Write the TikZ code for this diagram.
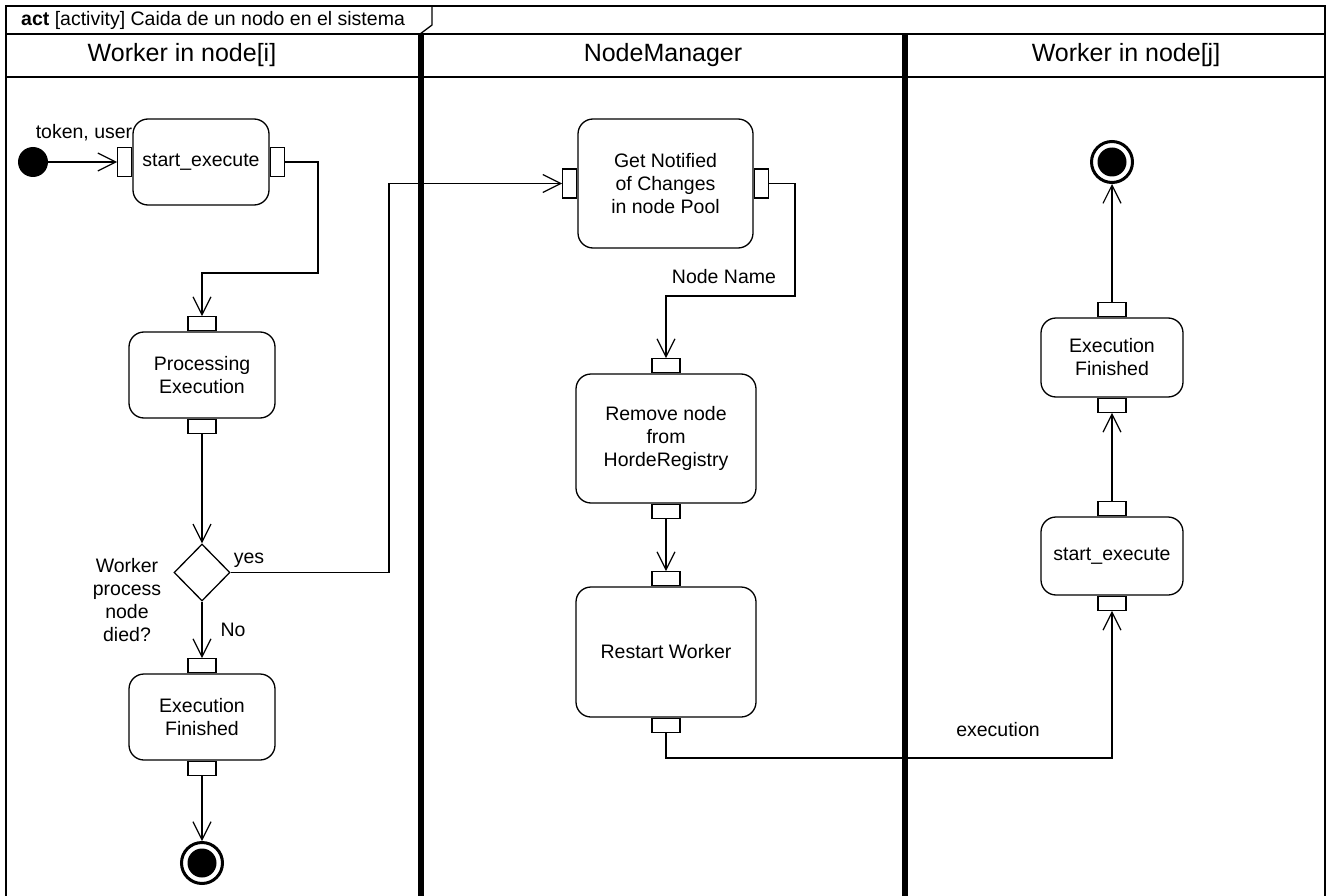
\documentclass[tikz,border=0pt]{standalone}
\usepackage{fontspec}
\setmainfont{Liberation Sans}
\usepackage{tikz}
\usetikzlibrary{shapes.geometric, arrows.meta, positioning, calc}
\newcommand{\bodyfont}{\fontsize{19.5}{23}\selectfont}
\newcommand{\lanefont}{\fontsize{25}{29}\selectfont}

\begin{document}
\begin{tikzpicture}[
    x=1pt, y=-1pt,
    action/.style={draw, line width=1.3pt, rounded corners=15pt, align=center, inner sep=0pt, font=\bodyfont},
    pinh/.style={draw, fill=white, line width=1.2pt, minimum width=14pt, minimum height=29pt, inner sep=0pt},
    pinv/.style={draw, fill=white, line width=1.2pt, minimum width=28pt, minimum height=14pt, inner sep=0pt},
    flow/.style={-{Straight Barb[length=18pt, width=18pt]}, line width=1.2pt},
    lbl/.style={font=\bodyfont, inner sep=0pt, align=center},
    initial/.style={circle, fill=black, minimum size=30pt, inner sep=0pt},
    final/.style={circle, draw, line width=3pt, minimum size=41pt, inner sep=0pt,
      path picture={\fill (path picture bounding box.center) circle (14.5pt);}},
    decision/.style={diamond, draw, line width=1.3pt, minimum width=56pt, minimum height=57pt, inner sep=0pt}
  ]
    \useasboundingbox (0,0) rectangle (1330,896);

    % Frame y carriles
    \draw[line width=1.3pt] (6,900) -- (6,6) -- (1325,6) -- (1325,900);
    \draw[line width=1.3pt] (432,6) -- (432,25) -- (420,34);
    \draw[line width=1.3pt] (6,34) -- (1325,34);
    \draw[line width=1.3pt] (6,77) -- (1325,77);
    \draw[line width=6pt] (420.5,34) -- (420.5,900);
    \draw[line width=6pt] (905,34) -- (905,900);
    \node[anchor=west, font=\bodyfont, inner sep=0pt] (head) at (21,20) {\textbf{act} [activity] Caida de un nodo en el sistema};
    \node[font=\lanefont] (lanei) at (182,55) {Worker in node[i]};
    \node[font=\lanefont] (lanem) at (663,55) {NodeManager};
    \node[font=\lanefont] (lanej) at (1126,55) {Worker in node[j]};

    % Worker in node[i]
    \node[initial] (init) at (33,162) {};
    \node[action, minimum width=136pt, minimum height=86pt] (sti) at (201,162) {start\_execute};
    \node[pinh, left=0pt of sti] (sti_in) {};
    \node[pinh, right=0pt of sti] (sti_out) {};
    \node[lbl] (tok) at (84,133) {token, user};

    \node[action, minimum width=146pt, minimum height=86pt] (proc) at (202,375) {Processing\\Execution};
    \node[pinv, above=0pt of proc] (proc_in) {};
    \node[pinv, below=0pt of proc] (proc_out) {};

    \node[decision] (dec) at (202,572.5) {};
    \node[lbl] (decq) at (127,600) {Worker\\process\\node\\died?};
    \node[lbl] (yes) at (249,560) {yes};
    \node[lbl] (no) at (233,630) {No};

    \node[action, minimum width=146pt, minimum height=86pt] (fini) at (202,717) {Execution\\Finished};
    \node[pinv, above=0pt of fini] (fini_in) {};
    \node[pinv, below=0pt of fini] (fini_out) {};
    \node[final] (endi) at (202,863) {};

    % NodeManager
    \node[action, minimum width=175pt, minimum height=129pt] (notify) at (665.5,183.5) {Get Notified\\of Changes\\ in node Pool};
    \node[pinh, left=0pt of notify] (notify_in) {};
    \node[pinh, right=0pt of notify] (notify_out) {};
    \node[lbl] (nname) at (724,277) {Node Name};

    \node[action, minimum width=180pt, minimum height=129pt] (remove) at (666,438.5) {Remove node\\from\\HordeRegistry};
    \node[pinv, above=0pt of remove] (remove_in) {};
    \node[pinv, below=0pt of remove] (remove_out) {};

    \node[action, minimum width=180pt, minimum height=130pt] (restart) at (666,652) {Restart Worker};
    \node[pinv, above=0pt of restart] (restart_in) {};
    \node[pinv, below=0pt of restart] (restart_out) {};
    \node[lbl] (exec) at (998,730) {execution};

    % Worker in node[j]
    \node[final] (endj) at (1112,162) {};
    \node[action, minimum width=142pt, minimum height=79pt] (finj) at (1112,357.5) {Execution\\Finished};
    \node[pinv, above=0pt of finj] (finj_in) {};
    \node[pinv, below=0pt of finj] (finj_out) {};
    \node[action, minimum width=142pt, minimum height=78pt] (stj) at (1112,556) {start\_execute};
    \node[pinv, above=0pt of stj] (stj_in) {};
    \node[pinv, below=0pt of stj] (stj_out) {};

    % Flechas
    \draw[flow] (init.east) -- (sti_in.west);
    \draw[flow] (sti_out.east) -- (318,162) |- (202,273) -- (proc_in.north);
    \draw[flow] (proc_out.south) -- (dec.north);
    \draw[flow] (dec.east) -- (389,572.5) |- (notify_in.west);
    \draw[flow] (dec.south) -- (fini_in.north);
    \draw[flow] (fini_out.south) -- (endi.north);
    \draw[flow] (notify_out.east) -- (795,183.5) |- (666,296) -- (remove_in.north);
    \draw[flow] (remove_out.south) -- (restart_in.north);
    \draw[flow] (restart_out.south) -- (666,758) -| (stj_out.south);
    \draw[flow] (stj_in.north) -- (finj_out.south);
    \draw[flow] (finj_in.north) -- (endj.south);
  \end{tikzpicture}
\end{document}
